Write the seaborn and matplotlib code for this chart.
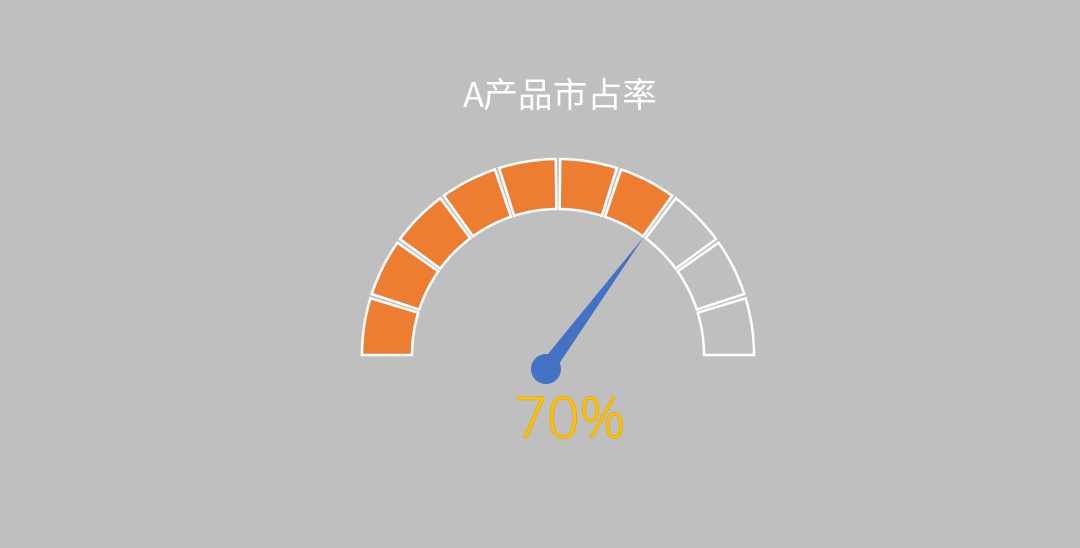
import numpy as np
import matplotlib
matplotlib.use("Agg")
import matplotlib.pyplot as plt
import seaborn as sns
from matplotlib.patches import Polygon, Circle
import matplotlib.patheffects as pe

# ---- data ----
title_text = "A产品市占率"
segment_count = 10
share_value = 0.70
value_label = "70%"

# ---- style ----
BG = "#BFBFBF"
ORANGE = "#ED7D31"
BLUE = "#4472C4"
GOLD = "#FFC000"

sns.set_theme(style="white", rc={"figure.facecolor": BG, "axes.facecolor": BG})
plt.rcParams['font.family'] = ['Noto Sans CJK SC', 'DejaVu Sans']

W, H = 1080, 548
fig = plt.figure(figsize=(W / 100, H / 100), dpi=100)
ax = fig.add_axes([0, 0, 1, 1])

cx, cy = 558, H - 355
R_out, R_in = 196, 146
gap = 1.3  # degrees between segments
seg = (180 - gap * (segment_count - 1)) / segment_count

filled = int(round(share_value * segment_count))
sizes, colors, edges = [], [], []
for i in range(segment_count):
    sizes.append(seg)
    colors.append(ORANGE if i < filled else "none")
    edges.append("white")
    if i < segment_count - 1:
        sizes.append(gap)
        colors.append("none")
        edges.append("none")
sizes.append(180)
colors.append("none")
edges.append("none")

wedges, _ = ax.pie(sizes, colors=colors, startangle=180, counterclock=False,
                   center=(cx, cy), radius=R_out,
                   wedgeprops=dict(width=R_out - R_in, linewidth=1.8),
                   frame=True)
for w, ec in zip(wedges, edges):
    w.set_edgecolor(ec)
    if ec == "none":
        w.set_linewidth(0)
ax.set_xlim(0, W)
ax.set_ylim(0, H)
ax.set_aspect("equal")
ax.axis("off")

# needle
ang = np.deg2rad(180 - 180 * share_value)
tip = np.array([cx + R_in * np.cos(ang), cy + R_in * np.sin(ang)])
base = np.array([546, H - 369])
d = tip - base
d = d / np.linalg.norm(d)
n = np.array([-d[1], d[0]])
hw = 8
needle = Polygon([base + n * hw, base - n * hw, tip], closed=True,
                 facecolor=BLUE, edgecolor="none", zorder=5)
ax.add_patch(needle)
ax.add_patch(Circle(base, 15, facecolor=BLUE, edgecolor="none", zorder=6))

# texts
ax.text(560, H - 97, title_text, ha="center", va="center", color="white",
        fontsize=25, fontweight="light")
t = ax.text(570, H - 423, value_label, ha="center", va="center", color=GOLD,
            fontsize=41, family=["Open Sans", "DejaVu Sans"], fontweight="light")
t.set_path_effects([pe.withStroke(linewidth=0.7, foreground="#D9A400")])

fig.savefig("out.png", dpi=100, facecolor=BG)
